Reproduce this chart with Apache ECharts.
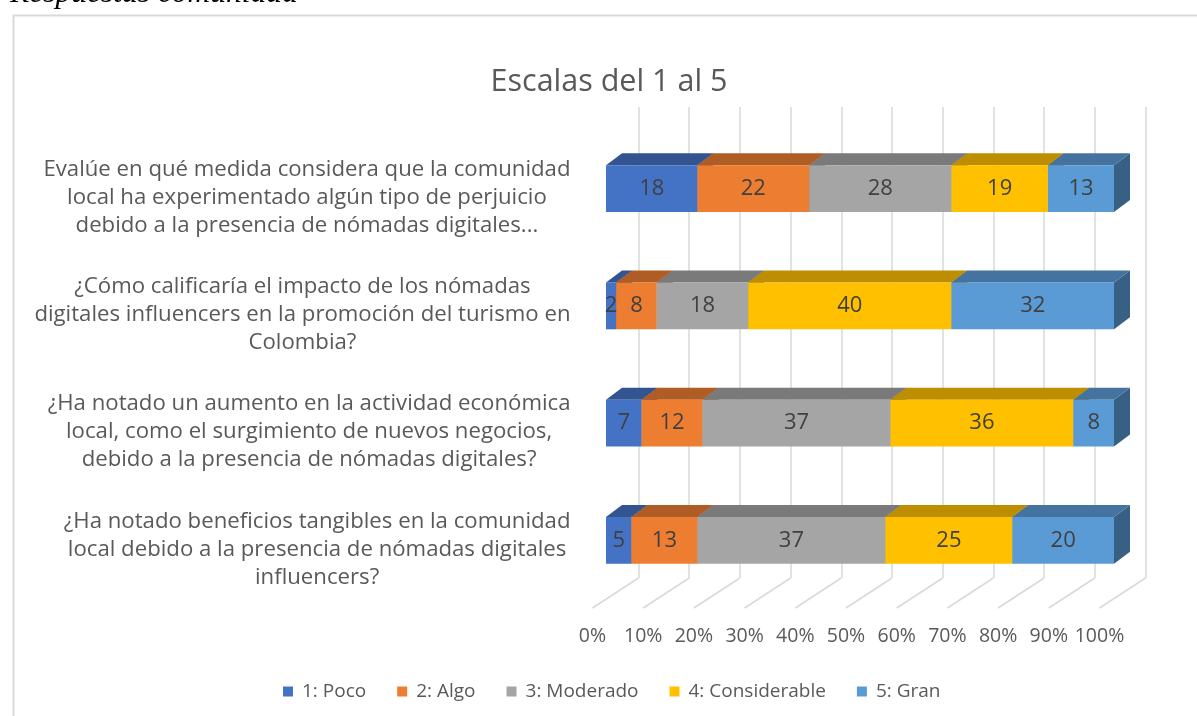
<!DOCTYPE html>
<html>
<head>
<meta charset="utf-8">
<script src="https://cdn.jsdelivr.net/npm/echarts@6/dist/echarts.min.js"></script>
<style>
  html, body { margin: 0; padding: 0; background: #fff; }
  #chart { width: 1197px; height: 716px; }
</style>
</head>
<body>
<div id="chart"></div>
<script>
// preguntas (de arriba a abajo)
const questions = [
  'Evalúe en qué medida considera que la comunidad\nlocal ha experimentado algún tipo de perjuicio\ndebido a la presencia de nómadas digitales...',
  '¿Cómo calificaría el impacto de los nómadas\ndigitales influencers en la promoción del turismo en\nColombia?',
  '¿Ha notado un aumento en la actividad económica\nlocal, como el surgimiento de nuevos negocios,\ndebido a la presencia de nómadas digitales?',
  '¿Ha notado beneficios tangibles en la comunidad\nlocal debido a la presencia de nómadas digitales\ninfluencers?'
]
const scaleNames = ['1: Poco', '2: Algo', '3: Moderado', '4: Considerable', '5: Gran']
const poco = [18, 2, 7, 5]
const algo = [22, 8, 12, 13]
const moderado = [28, 18, 37, 37]
const considerable = [19, 40, 36, 25]
const gran = [13, 32, 8, 20]
const pctTicks = [0, 10, 20, 30, 40, 50, 60, 70, 80, 90, 100]

const colors = ['#4472C4', '#ED7D31', '#A5A5A5', '#FFC000', '#5B9BD5']
const textColor = '#595959'
const gridColor = '#d9d9d9'
const font = '"Open Sans", sans-serif'

// pseudo 3D: profundidad de la barra y del suelo (px)
const BAR_DX = 16, BAR_DY = 12
const FLOOR_DX = 46, FLOOR_DY = 30

function shade(hex, k) {
  const n = parseInt(hex.slice(1), 16)
  const r = Math.round((n >> 16) * k), g = Math.round(((n >> 8) & 255) * k), b = Math.round((n & 255) * k)
  return 'rgb(' + r + ',' + g + ',' + b + ')'
}

const allValues = [poco, algo, moderado, considerable, gran]
const starts = questions.map(() => 0)

const barSeries = allValues.map((vals, k) => {
  const data = vals.map((v, i) => {
    const d = [starts[i], v, i]
    starts[i] += v
    return d
  })
  return {
    type: 'custom',
    name: scaleNames[k],
    xAxisIndex: 0,
    yAxisIndex: 0,
    z: 3,
    itemStyle: { color: colors[k] },
    encode: { x: 0, y: 2 },
    data,
    renderItem(params, api) {
      const s = api.value(0), v = api.value(1), c = api.value(2)
      const p0 = api.coord([s, c])
      const p1 = api.coord([s + v, c])
      const h = api.size([0, 1])[1] * 0.4
      const yT = p0[1] - h / 2, yB = p0[1] + h / 2
      return {
        type: 'group',
        children: [
          {
            type: 'polygon',
            shape: { points: [[p1[0], yT], [p1[0] + BAR_DX, yT - BAR_DY], [p1[0] + BAR_DX, yB - BAR_DY], [p1[0], yB]] },
            style: { fill: shade(colors[k], 0.62) }
          },
          {
            type: 'polygon',
            shape: { points: [[p0[0], yT], [p1[0], yT], [p1[0] + BAR_DX, yT - BAR_DY], [p0[0] + BAR_DX, yT - BAR_DY]] },
            style: { fill: shade(colors[k], 0.74) }
          },
          {
            type: 'rect',
            shape: { x: p0[0], y: yT, width: p1[0] - p0[0], height: h },
            style: { fill: colors[k] },
            textContent: {
              style: { text: String(v), fill: '#404040', font: '22px "Open Sans", sans-serif' }
            },
            textConfig: { position: 'inside' }
          }
        ]
      }
    }
  }
})

// líneas del suelo
const floorSeries = {
  type: 'custom',
  xAxisIndex: 1,
  yAxisIndex: 1,
  silent: true,
  z: 1,
  data: pctTicks.map(t => [t, 0]),
  renderItem(params, api) {
    const cs = params.coordSys
    const x = api.coord([api.value(0), 0])[0]
    const yb = cs.y + cs.height
    return {
      type: 'line',
      shape: { x1: x, y1: yb, x2: x + FLOOR_DX, y2: yb - FLOOR_DY },
      style: { stroke: gridColor, lineWidth: 1.5 }
    }
  }
}

const chart = echarts.init(document.getElementById('chart'))
chart.setOption({
  backgroundColor: '#fff',
  animation: false,
  textStyle: { fontFamily: font },
  graphic: [
    {
      type: 'rect', left: 11, top: 13, silent: true,
      shape: { x: 0, y: 0, width: 1200, height: 720 },
      style: { fill: null, stroke: gridColor, lineWidth: 2 }
    },
    {
      type: 'text', x: 10, y: -6, silent: true,
      style: { text: 'Respuestas comunidad', font: 'italic 31.5px "Liberation Serif", serif', fill: '#000', verticalAlign: 'middle' }
    },
    {
      type: 'text', x: 609, y: 82, silent: true,
      style: { text: 'Escalas del 1 al 5', fontSize: 30.5, fontFamily: font, fill: textColor, align: 'center', verticalAlign: 'middle' }
    }
  ],
  legend: {
    data: scaleNames,
    left: 278,
    top: 677,
    icon: 'rect',
    itemWidth: 10,
    itemHeight: 10,
    itemGap: 31,
    textStyle: { color: textColor, fontSize: 19, fontFamily: font, padding: [0, 0, 0, 4] }
  },
  grid: [
    { left: 606, top: 130, width: 508, height: 469, outerBoundsMode: 'none' },
    { left: 592.5, top: 139, width: 507, height: 469, outerBoundsMode: 'none' },
    { left: 638.5, top: 107, width: 507, height: 471, outerBoundsMode: 'none' }
  ],
  xAxis: [
    { gridIndex: 0, type: 'value', min: 0, max: 100, show: false },
    {
      gridIndex: 1, type: 'value', min: 0, max: 100, interval: 10,
      axisLine: { show: false }, axisTick: { show: false }, splitLine: { show: false },
      axisLabel: { formatter: '{value}%', margin: 18, color: textColor, fontSize: 19.5, fontFamily: font }
    },
    {
      gridIndex: 2, type: 'value', min: 0, max: 100, interval: 10,
      axisLine: { show: false }, axisTick: { show: false }, axisLabel: { show: false },
      splitLine: { show: true, lineStyle: { color: gridColor, width: 1.5 } }
    }
  ],
  yAxis: [
    { gridIndex: 0, type: 'category', data: questions, inverse: true, show: false },
    {
      gridIndex: 1, type: 'category', data: questions, inverse: true,
      axisLine: { show: false }, axisTick: { show: false }, splitLine: { show: false },
      axisLabel: {
        interval: 0,
        margin: 22,
        formatter: v => v.split('\n').map(l => '{c|' + l + '}').join('\n'),
        rich: { c: { align: 'center', fontSize: 22.2, lineHeight: 28, color: textColor, fontFamily: font } }
      }
    },
    { gridIndex: 2, type: 'value', min: 0, max: 1, show: false }
  ],
  series: [floorSeries].concat(barSeries)
})
</script>
</body>
</html>
